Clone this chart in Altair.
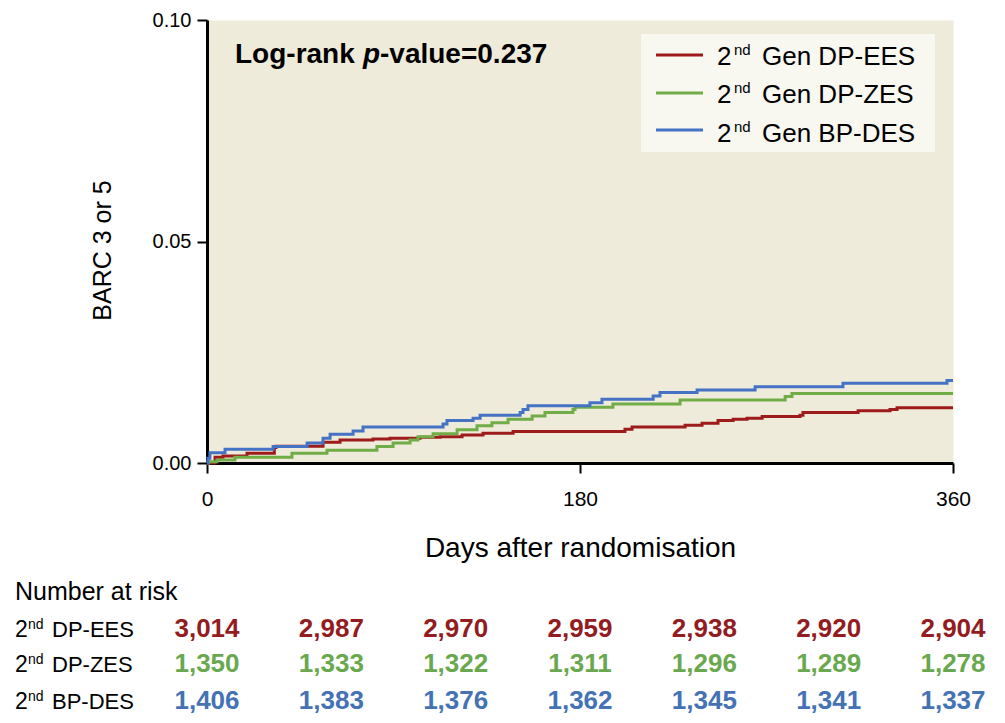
import altair as alt
import pandas as pd

# ---------------- data ----------------
SERIES = ["2nd Gen DP-EES", "2nd Gen DP-ZES", "2nd Gen BP-DES"]
LINE_COLORS = ["#9E1B1B", "#70AD47", "#4472C4"]
NUM_COLORS = ["#921C1F", "#6AA84F", "#4472B4"]

ees_days = [0, 3.9, 7.7, 19.3, 32.5, 33.3, 56.0, 64.2, 80.1, 88.3, 102.8, 112.5, 123.1,
            133.2, 147.7, 201.7, 205.1, 230.7, 238.9, 246.6, 253.9, 260.6, 267.9, 286.2,
            287.6, 314.2, 329.6, 333.0, 360]
ees_vals = [0.0, 0.0013, 0.0016, 0.0022, 0.0035, 0.0038, 0.0047, 0.0052, 0.0054, 0.0056,
            0.0058, 0.0059, 0.0063, 0.0067, 0.0071, 0.0076, 0.0081, 0.0085, 0.0090, 0.0096,
            0.0099, 0.0101, 0.0105, 0.0108, 0.0114, 0.0118, 0.0121, 0.0125, 0.0125]

zes_days = [0, 0.5, 4.8, 13.5, 41.0, 57.9, 82.0, 89.8, 98.0, 101.8, 109.1, 120.7, 130.3,
            137.5, 145.3, 156.9, 163.1, 176.6, 177.6, 195.9, 228.3, 279.0, 282.3, 360]
zes_vals = [0.0, 0.0003, 0.0007, 0.0013, 0.0022, 0.0029, 0.0037, 0.0045, 0.0052, 0.0059,
            0.0066, 0.0075, 0.0084, 0.0091, 0.0099, 0.0106, 0.0114, 0.0121, 0.0126, 0.0133,
            0.0142, 0.0150, 0.0157, 0.0157]

des_days = [0, 0.5, 1.4, 8.7, 31.9, 48.3, 56.0, 59.4, 70.5, 75.3, 113.9, 115.8, 128.4,
            131.8, 151.1, 152.5, 154.9, 184.8, 190.6, 215.3, 218.6, 236.5, 264.5, 306.9,
            357.1, 360]
des_vals = [0.0, 0.0011, 0.0023, 0.0031, 0.0037, 0.0045, 0.0056, 0.0065, 0.0072, 0.0081,
            0.0088, 0.0096, 0.0101, 0.0108, 0.0114, 0.0121, 0.0129, 0.0136, 0.0144, 0.0151,
            0.0159, 0.0165, 0.0172, 0.0180, 0.0186, 0.0186]

risk_days = [0, 60, 120, 180, 240, 300, 360]
ees_risk = ["3,014", "2,987", "2,970", "2,959", "2,938", "2,920", "2,904"]
zes_risk = ["1,350", "1,333", "1,322", "1,311", "1,296", "1,289", "1,278"]
des_risk = ["1,406", "1,383", "1,376", "1,362", "1,345", "1,341", "1,337"]
risk_labels = ["DP-EES", "DP-ZES", "BP-DES"]

x_ticks = [0, 180, 360]
y_ticks = [0, 0.05, 0.10]

# ---------------- styling ----------------
FONT = "Liberation Sans"
W, H = 746, 443

frames = []
for name, d, v in zip(SERIES, [ees_days, zes_days, des_days], [ees_vals, zes_vals, des_vals]):
    frames.append(pd.DataFrame({"day": d, "value": v, "series": name}))
curves = pd.concat(frames, ignore_index=True)

x_axis = alt.Axis(values=x_ticks, grid=False, domainColor="black", domainWidth=3,
                  tickColor="black", tickWidth=2, tickSize=10, labelFont=FONT,
                  labelFontSize=21, labelColor="black", labelPadding=15, labelFlush=False,
                  title="Days after randomisation", titleFont=FONT, titleFontSize=28,
                  titleFontWeight="normal", titleColor="black", titleX=373, titleY=93,
                  titleBaseline="alphabetic", titleAlign="center")
x_scale = alt.Scale(domain=[0, 360], nice=False, zero=False)
X_ENC = alt.X("day:Q", scale=x_scale, axis=x_axis)

y_axis = alt.Axis(values=y_ticks, format=".2f", grid=False, domainColor="black",
                  domainWidth=3, tickColor="black", tickWidth=2, tickSize=10,
                  labelFont=FONT, labelFontSize=20, labelColor="black", labelPadding=6,
                  title="BARC 3 or 5", titleFont=FONT, titleFontSize=25,
                  titleFontWeight="normal", titleColor="black", titleX=-97, titleY=230,
                  titleAlign="center", titleBaseline="alphabetic", titleAngle=270)

lines = alt.Chart(curves).mark_line(interpolate="step-after", strokeWidth=3).encode(
    x=X_ENC,
    y=alt.Y("value:Q", scale=alt.Scale(domain=[0, 0.1], nice=False), axis=y_axis),
    color=alt.Color("series:N", scale=alt.Scale(domain=SERIES, range=LINE_COLORS), legend=None),
    detail="series:N",
)


def one():
    return pd.DataFrame({"k": [0]})


def txt(s, x, y, size, weight="normal", style="normal", align="left", color="black"):
    return alt.Chart(pd.DataFrame({"t": [s]})).mark_text(
        font=FONT, fontSize=size, fontWeight=weight, fontStyle=style, align=align,
        baseline="alphabetic", color=color
    ).encode(x=alt.value(x), y=alt.value(y), text="t:N")


layers = [lines]

# log-rank annotation
layers.append(txt("Log-rank", 28, 43, 28, weight="bold"))
layers.append(txt("p", 156, 43, 28, weight="bold", style="italic"))
layers.append(txt("-value=0.237", 173, 43, 28, weight="bold"))

# legend
layers.append(alt.Chart(one()).mark_rect(color="#F8F7F0").encode(
    x=alt.value(434), x2=alt.value(728), y=alt.value(14), y2=alt.value(132)))
leg_line_y = [35, 73, 110]
leg_base_y = [45, 83, 122]
for i, name in enumerate(SERIES):
    layers.append(alt.Chart(one()).mark_rule(strokeWidth=3, color=LINE_COLORS[i]).encode(
        x=alt.value(449), x2=alt.value(496), y=alt.value(leg_line_y[i])))
    layers.append(txt("2", 510, leg_base_y[i], 26))
    layers.append(txt("nd", 527, leg_base_y[i] - 10, 15))
    layers.append(txt(name.replace("2nd ", ""), 555, leg_base_y[i], 26))

# number at risk table
layers.append(txt("Number at risk", -192, 580, 25))
row_base = [617, 652, 689]
for i, (lab, vals) in enumerate(zip(risk_labels, [ees_risk, zes_risk, des_risk])):
    layers.append(txt("2", -192, row_base[i], 23))
    layers.append(txt("nd", -179, row_base[i] - 8, 14))
    layers.append(txt(lab, -155, row_base[i], 22))
    df = pd.DataFrame({"day": risk_days, "n": vals})
    layers.append(alt.Chart(df).mark_text(
        font=FONT, fontSize=26, fontWeight="bold", align="center",
        baseline="alphabetic", color=NUM_COLORS[i]
    ).encode(x=X_ENC, y=alt.value(row_base[i]), text="n:N"))

chart = alt.layer(*layers).properties(
    width=W, height=H,
    autosize=alt.AutoSizeParams(type="none"),
    padding={"left": 199, "top": 12, "right": 44, "bottom": 252},
    background="white",
).configure_view(fill="#EFEBDA", stroke="transparent")

chart.save("out.html", embed_options={"renderer": "svg", "actions": False})
